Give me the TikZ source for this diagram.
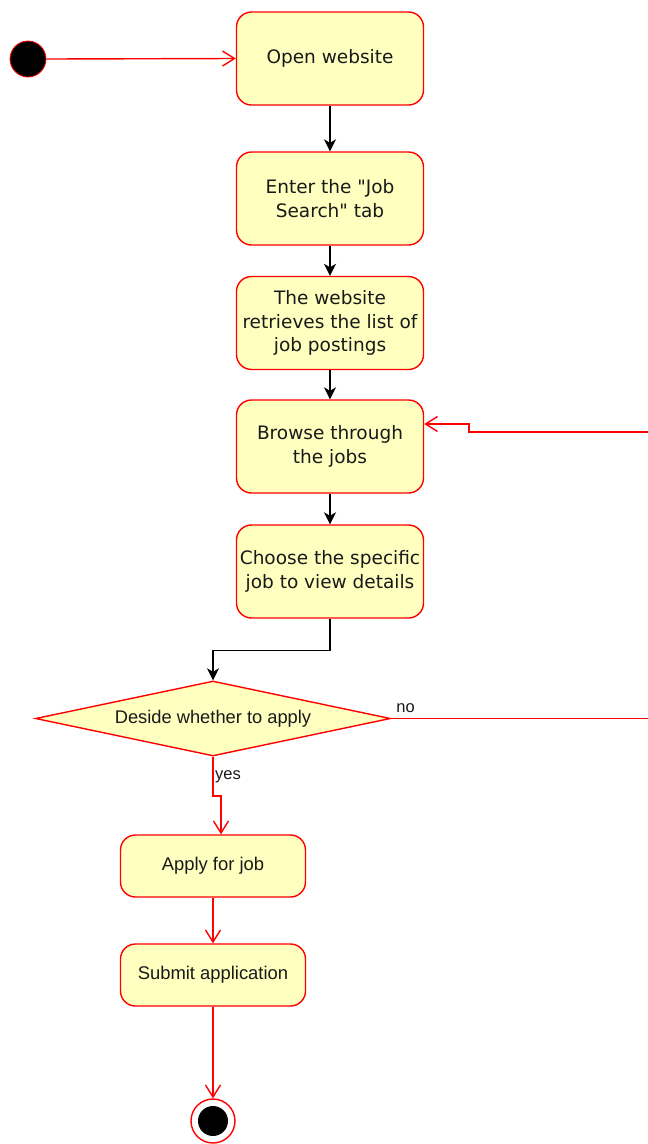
\documentclass[tikz,border=0pt]{standalone}
\usepackage{fontspec}
\setmainfont{DejaVu Sans}[Ligatures=TeXOff]
\newfontfamily\helv{Liberation Sans}
\usetikzlibrary{arrows.meta,shapes.geometric,calc}
\definecolor{actfill}{HTML}{FFFFC0}
\definecolor{actred}{HTML}{FF0000}
\begin{document}
\begin{tikzpicture}[x=1pt,y=-1pt,
  act/.style={draw=actred,fill=actfill,line width=1.4pt,rounded corners=15pt,
    minimum width=187pt,minimum height=93pt,align=center,inner sep=0pt,
    font=\fontsize{18.5}{23.5}\selectfont,text=black!90},
  actsmall/.style={act,minimum width=185pt,minimum height=62pt,
    font=\helv\fontsize{18.4}{21}\selectfont},
  flow/.style={draw=black,line width=1.4pt,-{Stealth[length=12pt,width=12pt,inset=3.5pt]}},
  redflow/.style={draw=actred,line width=1.4pt,-{Straight Barb[length=12pt,width=15pt]}},
  lbl/.style={font=\helv\fontsize{16.5}{19}\selectfont,inner sep=0pt,text=black!90},
]
\clip (0,0) rectangle (648,1144);

% initial and final states
\node[circle,fill=black,draw=actred,line width=0.8pt,minimum size=36pt,inner sep=0pt] (start) at (28,59) {};
\node[circle,draw=actred,fill=white,line width=1.4pt,minimum size=44pt,inner sep=0pt] (final) at (213,1121) {};
\node[circle,fill=black,minimum size=30pt,inner sep=0pt] (finaldot) at (final) {};

% activities
\node[act] (open)     at (330,58.5)  {Open website};
\node[act] (enter)    at (330,198.5) {Enter the "Job\\Search" tab};
\node[act] (retrieve) at (330,323)   {The website\\retrieves the list of\\job postings};
\node[act] (browse)   at (330,446.5) {Browse through\\the jobs};
\node[act] (choose)   at (330,571.5) {Choose the specific\\job to view details};

\node[draw=actred,fill=actfill,line width=1.4pt,shape=diamond,shape aspect=4.7,
  minimum width=355pt,minimum height=75pt,inner sep=0pt,
  font=\helv\fontsize{18.3}{21}\selectfont,text=black!90] (decide) at (213,718.5) {Deside whether to apply};

\node[actsmall] (apply)  at (213,866) {Apply for job};
\node[actsmall] (submit) at (213,975) {Submit application};

% transitions
\draw[redflow] (start.east) -- (open.west);
\draw[flow] (open.south) -- (enter.north);
\draw[flow] (enter.south) -- (retrieve.north);
\draw[flow] (retrieve.south) -- (browse.north);
\draw[flow] (browse.south) -- (choose.north);
\draw[flow] (choose.south) -- ++(0,32) -| (decide.north);

\draw[redflow] (decide.east) -- (660,718.5) -- (660,432) -- (469,432) -- (469,424) -- (browse.east |- 0,424);
\node[lbl,anchor=south west] (nolbl) at ($(decide.east)+(5,-6)$) {no};

\draw[redflow] (decide.south) -- (213,796) -- (221,796) -- (apply.north -| 221,0);
\node[lbl,anchor=west] (yeslbl) at (215,777) {yes};

\draw[redflow] (apply.south) -- (submit.north);
\draw[redflow] (submit.south) -- (final.north);
\end{tikzpicture}
\end{document}
